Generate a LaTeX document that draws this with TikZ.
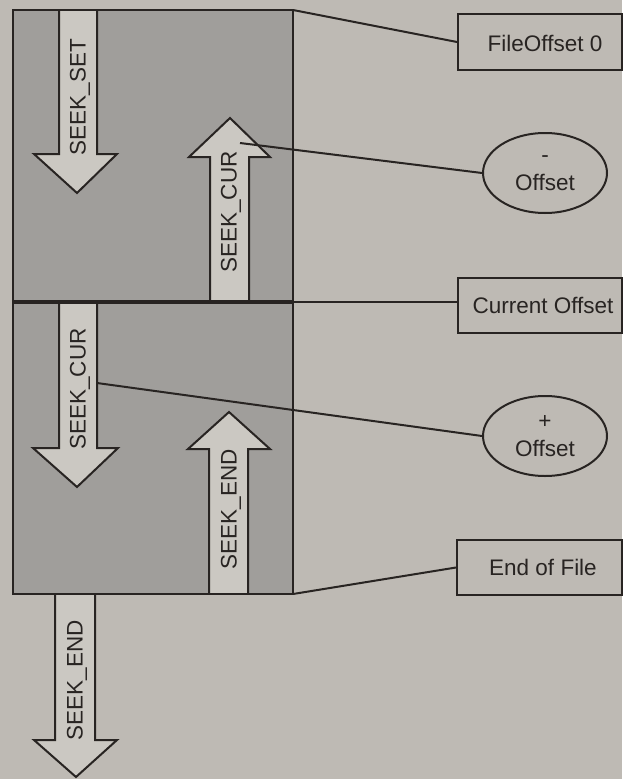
\documentclass[tikz,border=0pt]{standalone}
\usepackage{fontspec}
\setmainfont{Liberation Sans}
\usetikzlibrary{shapes.geometric}
\definecolor{bg}{RGB}{190,186,180}
\definecolor{panel}{RGB}{160,158,155}
\definecolor{arrowfill}{RGB}{203,200,194}
\definecolor{ink}{RGB}{40,36,34}
\tikzset{
  lbl/.style={font=\fontsize{22.5}{26}\selectfont, text=ink, inner sep=0pt},
  fatarrow/.style={draw=ink, line width=2pt, fill=arrowfill, line join=miter},
  panelbox/.style={draw=ink, line width=2pt, fill=panel},
  tagbox/.style={draw=ink, line width=2pt, fill=bg, rectangle, inner sep=0pt},
  tagoval/.style={draw=ink, line width=2pt, fill=bg, ellipse, inner sep=0pt,
    minimum width=124pt, minimum height=80pt, align=center,
    font=\fontsize{22.5}{28}\selectfont, text=ink},
  link/.style={draw=ink, line width=2pt}
}
\begin{document}
\begin{tikzpicture}[x=1pt,y=-1pt]
\useasboundingbox (0,0) rectangle (622,779);
\fill[bg] (0,0) rectangle (622,779);
% panels
\draw[panelbox] (13,10) rectangle (293,301);
\draw[panelbox] (13,302) rectangle (293,594);
% arrows in top panel
\draw[fatarrow] (59,10) -- (59,154) -- (34,154) -- (77,193) -- (117,154) -- (97,154) -- (97,10);
\draw[fatarrow] (210,300) -- (210,157) -- (189,157) -- (230,118) -- (270,157) -- (249,157) -- (249,300);
% arrows in bottom panel
\draw[fatarrow] (59,303) -- (59,448) -- (33,448) -- (77,487) -- (118,448) -- (97,448) -- (97,303);
\draw[fatarrow] (209,594) -- (209,449) -- (188,449) -- (229,412) -- (270,449) -- (248,449) -- (248,594);
% arrow below
\draw[fatarrow] (55,594) -- (55,740) -- (34,740) -- (76,777) -- (117,740) -- (95,740) -- (95,594);
% redraw panel borders
\draw[draw=ink, line width=2pt] (13,10) rectangle (293,594);
\draw[draw=ink, line width=4pt] (13,301.5) -- (293,301.5);
% arrow labels
\node[lbl, rotate=90] (set) at (80,97) {SEEK\_SET};
\node[lbl, rotate=90] (cur1) at (231,212) {SEEK\_CUR};
\node[lbl, rotate=90] (cur2) at (80,389) {SEEK\_CUR};
\node[lbl, rotate=90] (end1) at (231,509) {SEEK\_END};
\node[lbl, rotate=90] (end2) at (77,680) {SEEK\_END};
% anchor points
\coordinate (c0) at (293,10);
\coordinate (cm) at (240,143);
\coordinate (cc) at (293,302);
\coordinate (cp) at (97,383);
\coordinate (ce) at (293,594);
% tag boxes
\node[tagbox, minimum width=164pt, minimum height=56pt, anchor=north west] (fo) at (457,13) {};
\node[lbl] (fot) at (545,43) {FileOffset 0};
\node[tagbox, minimum width=164pt, minimum height=55pt, anchor=north west] (co) at (457,277) {};
\node[lbl] (cot) at (543,305) {Current Offset};
\node[tagbox, minimum width=165pt, minimum height=55pt, anchor=north west] (eof) at (456,539) {};
\node[lbl] (eoft) at (543,567) {End of File};
\node[tagoval] (minus) at (545,173) {-\\Offset};
\node[tagoval] (plus) at (545,436) {+\\Offset};
% connectors
\draw[link] (c0) -- (fo.west);
\draw[link] (cm) -- (minus.west);
\draw[link] (cc) -- (co.west |- cc);
\draw[link] (cp) -- (plus.west);
\draw[link] (ce) -- (eof.west);
\end{tikzpicture}
\end{document}
